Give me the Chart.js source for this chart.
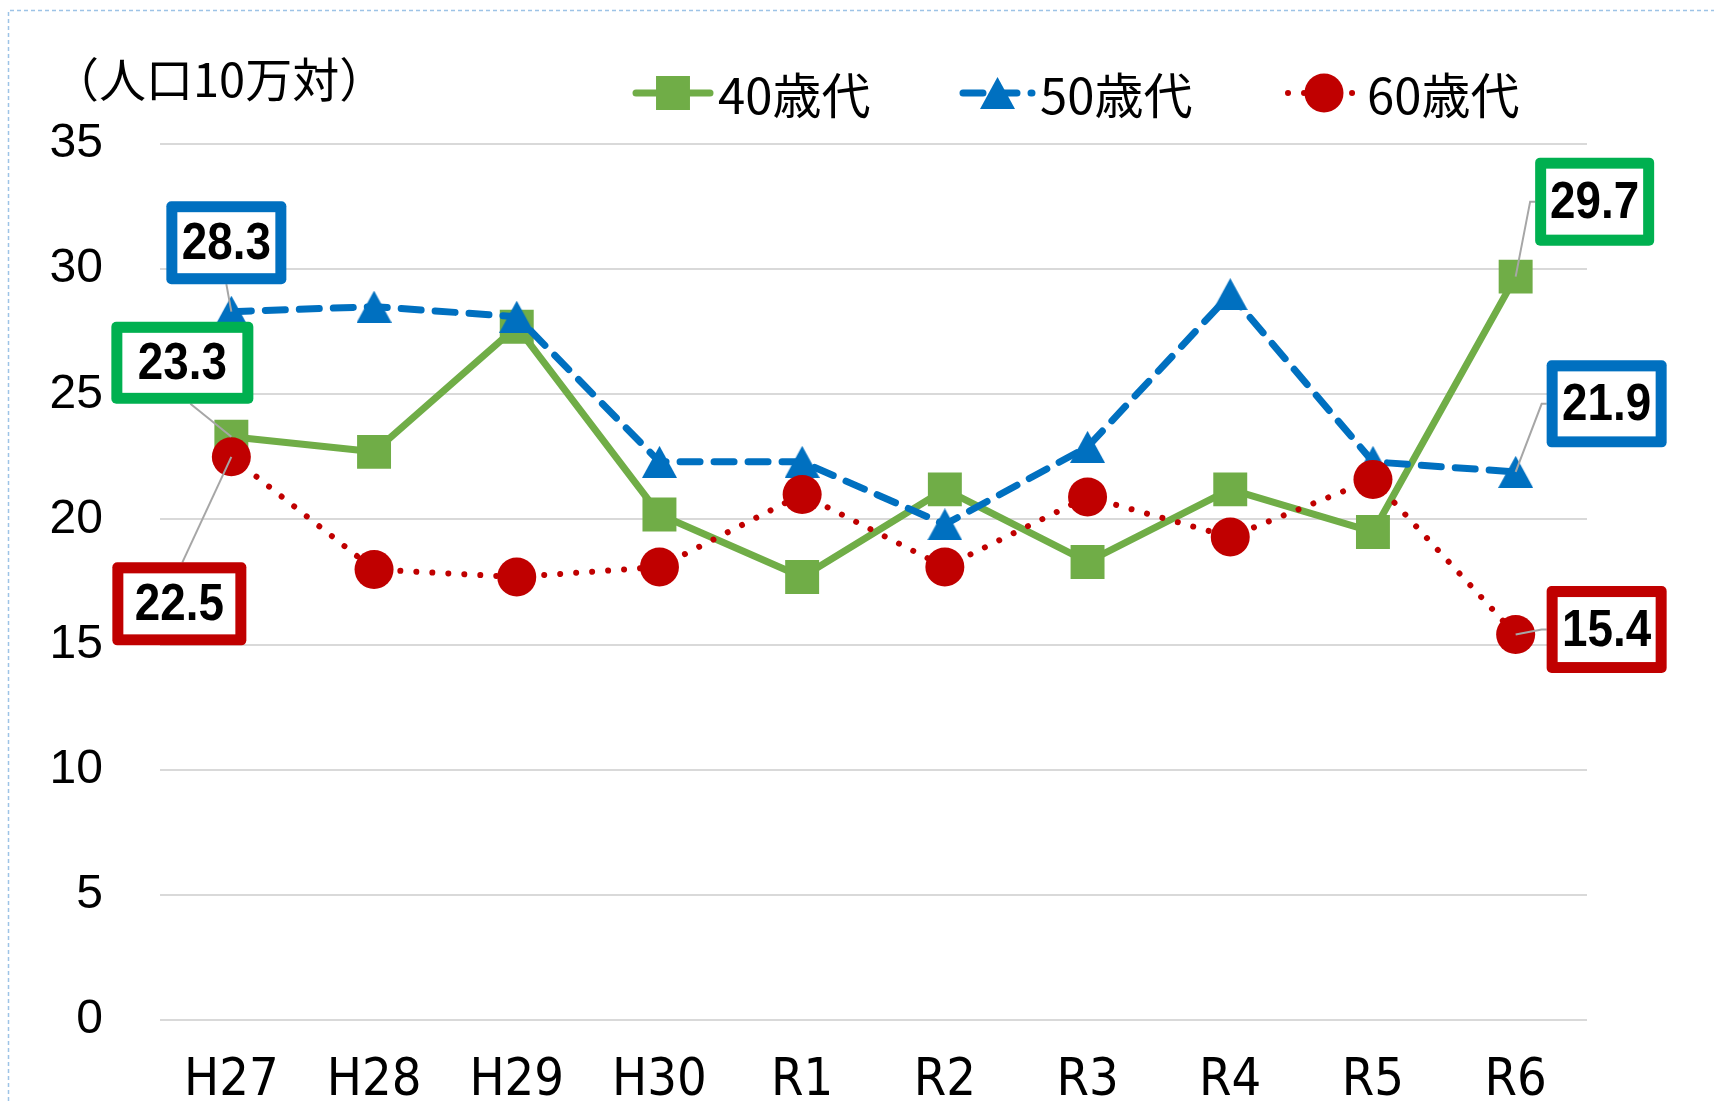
<!DOCTYPE html>
<html lang="ja">
<head>
<meta charset="utf-8">
<title>年代別 推移</title>
<script src="https://cdn.jsdelivr.net/npm/chart.js"></script>
<style>
  html, body { margin: 0; padding: 0; background: #fff; }
  #wrap { position: relative; width: 1714px; height: 1101px; }
</style>
</head>
<body>
<div id="wrap"><canvas id="chart" width="1714" height="1101"></canvas></div>
<script>
// データ
const categories = ['H27', 'H28', 'H29', 'H30', 'R1', 'R2', 'R3', 'R4', 'R5', 'R6'];
const age40 = [23.3, 22.7, 27.7, 20.2, 17.7, 21.2, 18.3, 21.2, 19.5, 29.7];
const age50 = [28.3, 28.5, 28.1, 22.3, 22.3, 19.8, 22.9, 29.0, 22.3, 21.9];
const age60 = [22.5, 18.0, 17.7, 18.1, 21.0, 18.1, 20.9, 19.3, 21.6, 15.4];
const seriesNames = ['40歳代', '50歳代', '60歳代'];
const yTickValues = [0, 5, 10, 15, 20, 25, 30, 35];
const unitLabel = '（人口10万対）';

const GREEN = '#70ad47', BLUE = '#0070c0', RED = '#c00000';
const boxColors = ['#00b050', '#0070c0', '#c00000'];
const CJK = '"Noto Sans CJK JP", "Noto Sans", sans-serif';
const CONDENSED = '"DejaVu Sans Condensed", "Liberation Sans", sans-serif';

// 吹き出しラベル（点からのずれ）
const callouts = [
  { ds: 1, idx: 0, dx: -5, dy: -69, w: 120, h: 83, side: 'bottom', ax: 0 },
  { ds: 0, idx: 0, dx: -49, dy: -74, w: 142, h: 82, side: 'bottom', ax: 8 },
  { ds: 2, idx: 0, dx: -52, dy: 147, w: 134, h: 83, side: 'top', ax: 3 },
  { ds: 0, idx: 9, dx: 79, dy: -75, w: 119, h: 88, side: 'left' },
  { ds: 1, idx: 9, dx: 91, dy: -68, w: 120, h: 87, side: 'left' },
  { ds: 2, idx: 9, dx: 91, dy: -5, w: 120, h: 87, side: 'left' }
];

// 凡例の位置
const legendItems = [
  { x0: 636, x1: 710, text: 718 },
  { x0: 963, x1: 1032, text: 1040 },
  { x0: 1288, x1: 1360, text: 1367 }
];

// Excel風の三角マーカー（外接矩形の中心が点）
function makeTriangle(w, h, color) {
  const c = document.createElement('canvas');
  c.width = w; c.height = h;
  const g = c.getContext('2d');
  g.fillStyle = color;
  g.beginPath();
  g.moveTo(w / 2, 0);
  g.lineTo(w, h);
  g.lineTo(0, h);
  g.closePath();
  g.fill();
  return c;
}
const triangle = makeTriangle(35, 32, BLUE);

const extras = {
  id: 'extras',
  beforeDraw(chart) {
    const ctx = chart.ctx;
    ctx.save();
    ctx.fillStyle = '#fff';
    ctx.fillRect(0, 0, chart.width, chart.height);
    ctx.strokeStyle = '#9dc3e6';
    ctx.lineWidth = 1.5;
    ctx.setLineDash([4, 3]);
    ctx.beginPath();
    ctx.moveTo(8.5, chart.height);
    ctx.lineTo(8.5, 10.5);
    ctx.lineTo(chart.width, 10.5);
    ctx.stroke();
    ctx.restore();
  },
  afterDatasetsDraw(chart) {
    const ctx = chart.ctx;
    ctx.save();
    callouts.forEach(c => {
      const pt = chart.getDatasetMeta(c.ds).data[c.idx];
      const v = chart.data.datasets[c.ds].data[c.idx];
      const cx = pt.x + c.dx, cy = pt.y + c.dy;
      const bx = cx - c.w / 2, by = cy - c.h / 2;
      // 引き出し線
      ctx.strokeStyle = '#a6a6a6';
      ctx.lineWidth = 2;
      ctx.setLineDash([]);
      ctx.beginPath();
      if (c.side === 'left') {
        ctx.moveTo(bx, cy);
        ctx.lineTo(bx - 5, cy);
      } else if (c.side === 'bottom') {
        ctx.moveTo(cx + c.ax, by + c.h);
      } else {
        ctx.moveTo(cx + c.ax, by);
      }
      ctx.lineTo(pt.x, pt.y);
      ctx.stroke();
      // 枠
      const bw = 11;
      ctx.fillStyle = boxColors[c.ds];
      ctx.beginPath();
      ctx.roundRect(bx, by, c.w, c.h, 5);
      ctx.fill();
      ctx.fillStyle = '#fff';
      ctx.fillRect(bx + bw, by + bw, c.w - 2 * bw, c.h - 2 * bw);
      ctx.fillStyle = '#000';
      ctx.font = 'bold 52px "Liberation Sans", Arial, sans-serif';
      ctx.textAlign = 'center';
      ctx.textBaseline = 'middle';
      ctx.save();
      ctx.translate(cx, cy + 2);
      ctx.scale(0.88, 1);
      ctx.fillText(v.toFixed(1), 0, 0);
      ctx.restore();
    });
    ctx.restore();
  },
  afterDraw(chart) {
    const ctx = chart.ctx;
    ctx.save();
    // 単位
    ctx.fillStyle = '#000';
    ctx.font = '47px ' + CJK;
    ctx.textAlign = 'left';
    ctx.textBaseline = 'middle';
    ctx.fillText(unitLabel, 52, 79);
    // 凡例
    chart.data.datasets.forEach((ds, i) => {
      const it = legendItems[i];
      const y = 93;
      ctx.strokeStyle = ds.borderColor;
      ctx.lineWidth = ds.borderWidth;
      ctx.lineCap = ds.borderCapStyle || 'round';
      ctx.setLineDash(ds.borderDash || []);
      ctx.beginPath();
      ctx.moveTo(it.x0, y);
      ctx.lineTo(it.x1, y);
      ctx.stroke();
      ctx.setLineDash([]);
      ctx.fillStyle = ds.pointBackgroundColor;
      Chart.helpers.drawPoint(ctx, {
        pointStyle: ds.pointStyle, radius: ds.pointRadius, rotation: 0, borderWidth: 0
      }, (it.x0 + it.x1) / 2, y);
      ctx.fillStyle = '#000';
      ctx.font = '49px ' + CJK;
      ctx.textAlign = 'left';
      ctx.textBaseline = 'middle';
      ctx.fillText(ds.label, it.text, y + 2);
    });
    ctx.restore();
  }
};

new Chart(document.getElementById('chart'), {
  type: 'line',
  data: {
    labels: categories,
    datasets: [
      {
        label: seriesNames[0], data: age40, order: 3,
        borderColor: GREEN, backgroundColor: GREEN, pointBackgroundColor: GREEN,
        borderWidth: 7, borderCapStyle: 'round', borderJoinStyle: 'round',
        pointStyle: 'rect', pointRadius: 24, pointBorderWidth: 0
      },
      {
        label: seriesNames[1], data: age50, order: 2,
        borderColor: BLUE, backgroundColor: BLUE, pointBackgroundColor: BLUE,
        borderWidth: 7, borderDash: [20, 14], borderCapStyle: 'round', borderJoinStyle: 'round',
        pointStyle: triangle, pointRadius: 20, pointBorderWidth: 0
      },
      {
        label: seriesNames[2], data: age60, order: 1,
        borderColor: RED, backgroundColor: RED, pointBackgroundColor: RED,
        borderWidth: 6, borderDash: [0.01, 16], borderCapStyle: 'round', borderJoinStyle: 'round',
        pointStyle: 'circle', pointRadius: 19.5, pointBorderWidth: 0
      }
    ]
  },
  options: {
    responsive: false,
    animation: false,
    events: [],
    layout: { padding: { top: 144, right: 127, left: 0, bottom: 0 } },
    plugins: {
      legend: { display: false },
      tooltip: { enabled: false }
    },
    scales: {
      x: {
        offset: true,
        grid: { display: false, drawTicks: false },
        border: { display: false },
        ticks: { color: '#000', font: { family: CONDENSED, size: 52 }, padding: 30, maxRotation: 0, autoSkip: false },
        afterFit(s) { s.height = 81; }
      },
      y: {
        min: 0, max: 35,
        afterBuildTicks(s) { s.ticks = yTickValues.map(v => ({ value: v })); },
        grid: { color: '#d9d9d9', lineWidth: 2, drawTicks: false },
        border: { display: false },
        ticks: { color: '#000', font: { family: '"Liberation Sans", Arial, sans-serif', size: 48 }, padding: 57 },
        afterFit(s) {
          s.width = 160;
          s.paddingTop = 0;
          s.paddingBottom = 0;
        }
      }
    }
  },
  plugins: [extras]
});
</script>
</body>
</html>
